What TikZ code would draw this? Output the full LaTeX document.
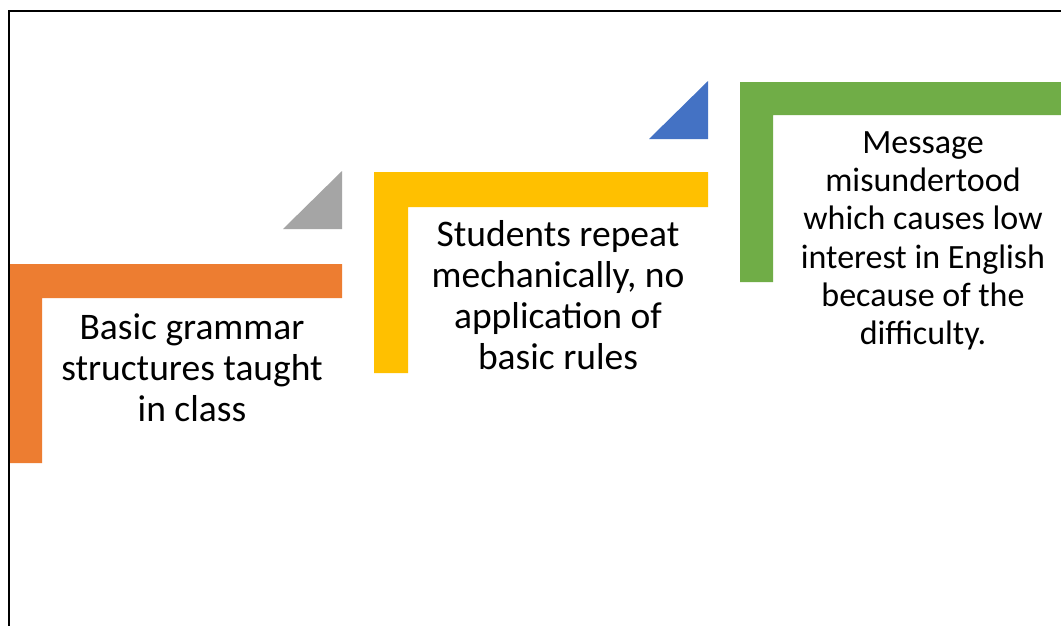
\documentclass[tikz,border=0pt]{standalone}
\usepackage{fontspec}
\setmainfont{Carlito}
\definecolor{offorange}{HTML}{ED7D31}
\definecolor{offgray}{HTML}{A5A5A5}
\definecolor{offyellow}{HTML}{FFC000}
\definecolor{offblue}{HTML}{4472C4}
\definecolor{offgreen}{HTML}{70AD47}
\tikzset{
  lbl/.style={anchor=north, inner sep=0pt, align=center, text=black},
  bigtxt/.style={font=\fontsize{37.5}{41}\selectfont},
  smalltxt/.style={font=\fontsize{34}{38.3}\selectfont},
}
\begin{document}
\begin{tikzpicture}[x=1pt,y=-1pt]
\useasboundingbox (0,0) rectangle (1061,625);
\clip (0,0) rectangle (1061,625);
\fill[white] (0,0) rectangle (1061,625);
% frame (only top and left visible)
\draw[line width=2.7pt] (9,700) -- (9,11) -- (1100,11);
% orange step
\fill[offorange] (10,264) -- (342,264) -- (342,298) -- (42,298) -- (42,463) -- (10,463) -- cycle;
\fill[offgray] (283,229) -- (342,229) -- (342,171) -- cycle;
% yellow step
\fill[offyellow] (374,172) -- (708,172) -- (708,207) -- (408,207) -- (408,373) -- (374,373) -- cycle;
\fill[offblue] (649,139) -- (708,139) -- (708,81) -- cycle;
% green step
\fill[offgreen] (740,82) -- (1073,82) -- (1073,115) -- (773,115) -- (773,282) -- (740,282) -- cycle;
% texts
\node[lbl,bigtxt] (t1) at (192,310.3) {\strut Basic grammar\\structures taught\\in class};
\node[lbl,bigtxt] (t2) at (558,218) {\strut Students repeat\\mechanically, no\\application of\\basic rules};
\node[lbl,smalltxt] (t3) at (923,126.2) {\strut Message\\misundertood\\which causes low\\interest in English\\because of the\\difficulty.};
\end{tikzpicture}
\end{document}
